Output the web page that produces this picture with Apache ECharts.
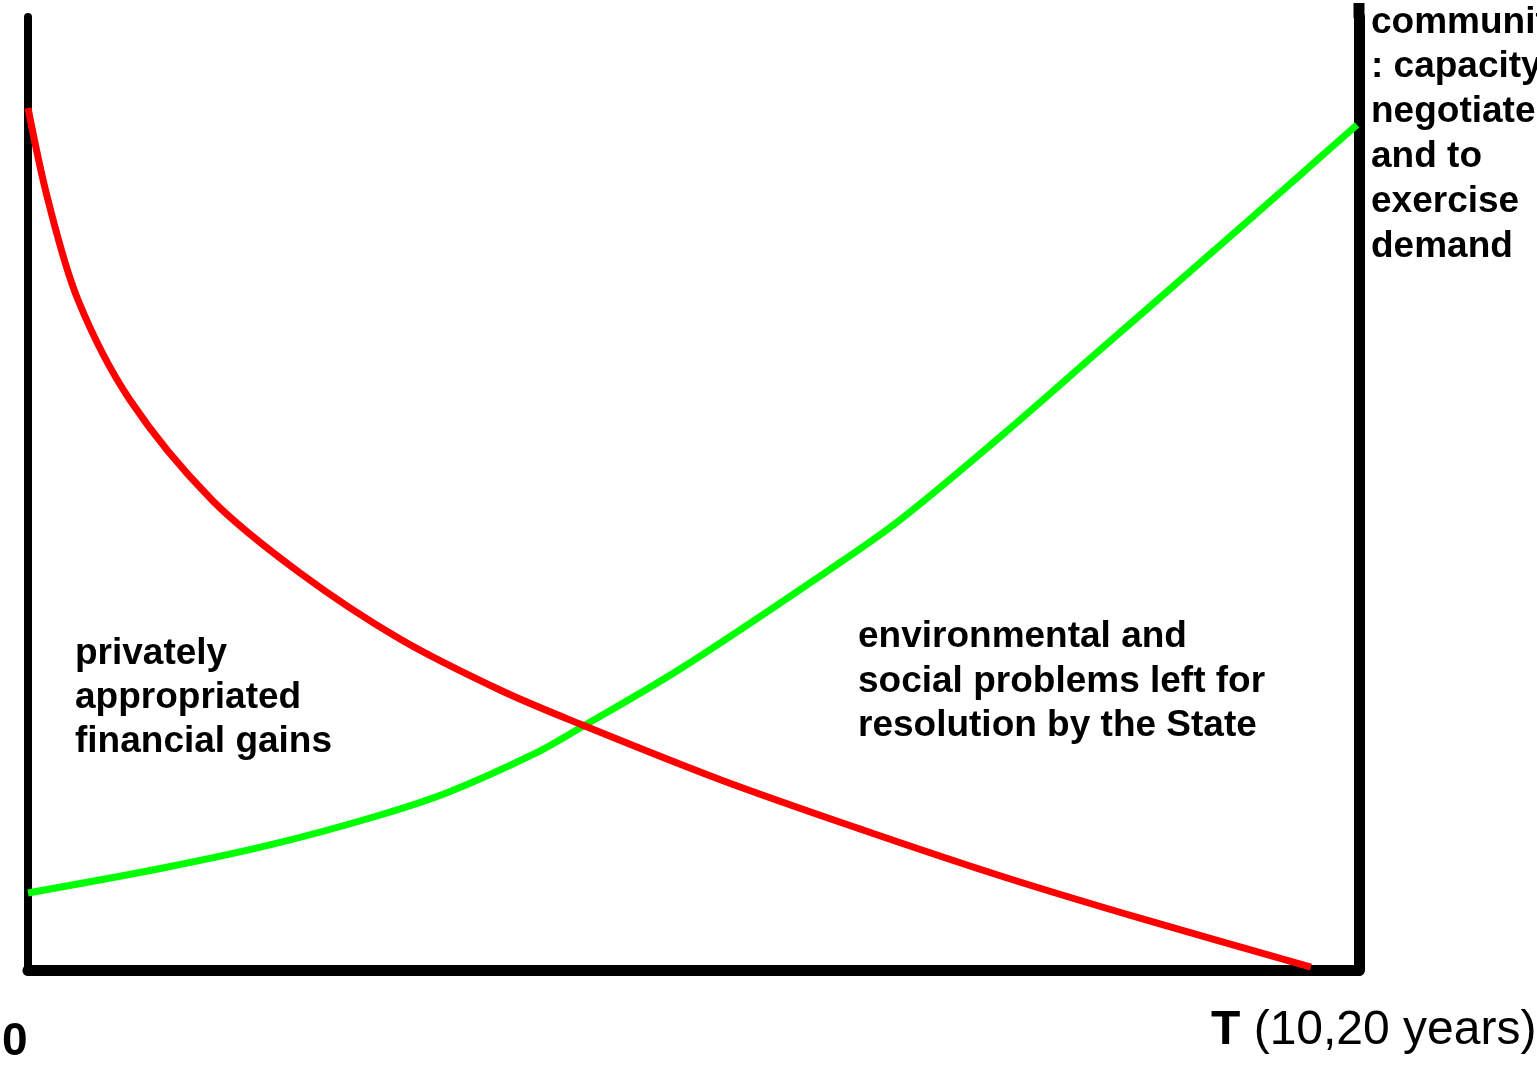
<!DOCTYPE html>
<html>
<head>
<meta charset="utf-8">
<script src="https://cdn.jsdelivr.net/npm/echarts@6/dist/echarts.min.js"></script>
<style>
html,body{margin:0;padding:0;background:#fff;}
#chart{width:1537px;height:1067px;}
</style>
</head>
<body>
<div id="chart"></div>
<script>
// Time axis position (0 = start, 100 = T) and relative level (0..100)
const redX = [0, 1.50, 3.76, 7.66, 13.82, 20.44, 27.95, 35.46, 41.47, 52.07, 62.73, 73.33, 84.00, 96.39];
const redY = [90.45, 80.80, 70.30, 59.81, 49.32, 41.66, 34.73, 29.38, 25.81, 19.94, 14.69, 9.76, 5.25, 0.31];
const greenX = [0, 10.14, 18.18, 26.22, 31.63, 38.02, 41.47, 48.99, 60.18, 65.51, 73.03, 80.54, 88.05, 95.57, 99.85];
const greenY = [8.08, 10.70, 13.12, 16.16, 18.68, 22.67, 25.39, 31.58, 41.97, 47.22, 55.93, 65.06, 74.19, 83.42, 88.67];

const leftLabel = ['privately', 'appropriated', 'financial gains'];
const midLabel = ['environmental and', 'social problems left for', 'resolution by the State'];
const rightLabel = ['community', ': capacity to', 'negotiate', 'and to', 'exercise', 'demand'];
const originLabel = '0';
const endLabelBold = 'T';
const endLabelRest = ' (10,20 years)';

const FONT = '"Liberation Sans", Arial, Helvetica, sans-serif';

const zip = (xs, ys) => xs.map((x, i) => [x, ys[i]]);

const chart = echarts.init(document.getElementById('chart'), null, {renderer: 'canvas'});
chart.setOption({
  animation: false,
  backgroundColor: '#ffffff',
  grid: {left: 28, right: 178, top: 17, bottom: 97, containLabel: false},
  xAxis: {
    type: 'value', min: 0, max: 100,
    axisLine: {show: true, onZero: false, lineStyle: {color: '#000', width: 11}},
    axisTick: {show: false}, axisLabel: {show: false}, splitLine: {show: false}
  },
  yAxis: [
    {
      type: 'value', min: 0, max: 100, position: 'left',
      axisLine: {show: true, onZero: false, lineStyle: {color: '#000', width: 8}},
      axisTick: {show: false}, axisLabel: {show: false}, splitLine: {show: false}
    },
    {
      type: 'value', min: 0, max: 100, position: 'right',
      axisLine: {show: true, onZero: false, lineStyle: {color: '#000', width: 11}},
      axisTick: {show: false}, axisLabel: {show: false}, splitLine: {show: false}
    }
  ],
  series: [
    {
      type: 'line', smooth: 0.33, showSymbol: false, symbol: 'none',
      data: zip(redX, redY),
      lineStyle: {color: '#ff0000', width: 7, cap: 'butt'},
      z: 3
    },
    {
      type: 'line', smooth: 0.33, showSymbol: false, symbol: 'none',
      data: zip(greenX, greenY),
      lineStyle: {color: '#00ff00', width: 7, cap: 'butt'},
      z: 2
    }
  ],
  graphic: [
    {type: 'line', shape: {x1: 1359, y1: 3, x2: 1359, y2: 18}, style: {stroke: '#000', lineWidth: 11}},
    {type: 'text', x: 75, y: 632, style: {text: leftLabel.join('\n'), font: 'bold 37px ' + FONT, lineHeight: 44, fill: '#000', textVerticalAlign: 'top'}},
    {type: 'text', x: 858, y: 615, style: {text: midLabel.join('\n'), font: 'bold 37px ' + FONT, lineHeight: 44.5, fill: '#000', textVerticalAlign: 'top'}},
    {type: 'text', x: 1371, y: 0, style: {text: rightLabel.join('\n'), font: 'bold 37px ' + FONT, lineHeight: 44.8, fill: '#000', textVerticalAlign: 'top'}},
    {type: 'text', x: 2, y: 1042, style: {text: originLabel, font: 'bold 46px ' + FONT, fill: '#000', textVerticalAlign: 'middle'}},
    {type: 'text', x: 1211, y: 1031, style: {
      text: '{b|' + endLabelBold + '}{n|' + endLabelRest + '}',
      textVerticalAlign: 'middle',
      rich: {
        b: {font: 'bold 48px ' + FONT, fill: '#000'},
        n: {font: '48px ' + FONT, fill: '#000'}
      }
    }}
  ]
});
</script>
</body>
</html>
